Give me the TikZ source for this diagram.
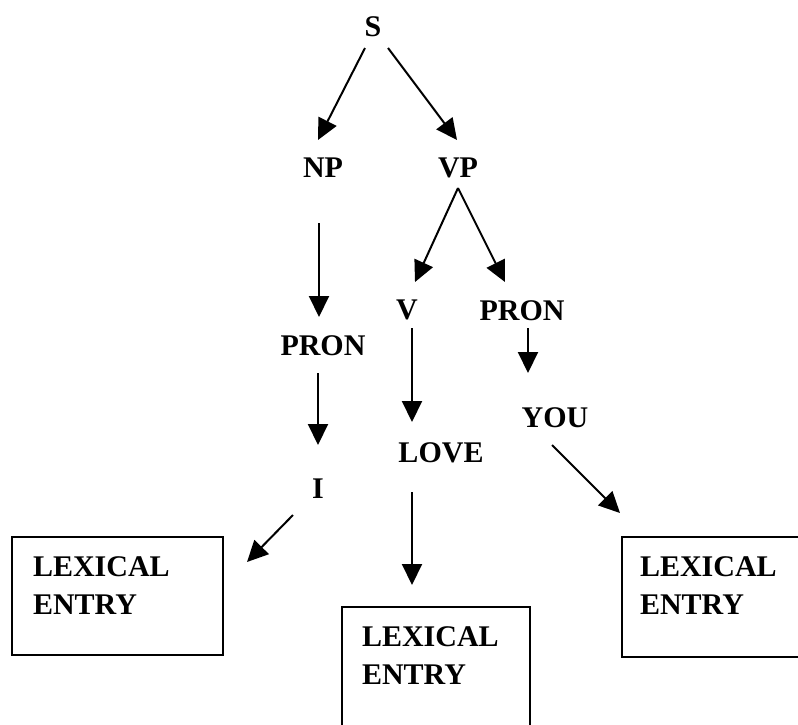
\documentclass[tikz,border=0pt]{standalone}
\usepackage{fontspec}
\setmainfont{Liberation Serif}
\usetikzlibrary{arrows.meta}

\begin{document}
\begin{tikzpicture}[
  x=1pt, y=-1pt,
  every node/.style={font=\fontsize{30}{38}\selectfont\bfseries, inner sep=0pt, outer sep=0pt},
  cat/.style={text height=21pt, text depth=0pt},
  entry box/.style={draw, line width=2.6pt, anchor=north west, minimum width=#1},
  entry text/.style={anchor=north west, align=left},
  tree arrow/.style={-{Triangle[length=21pt,width=20pt]}, line width=2pt}
]
  \clip (0,0) rectangle (798,724);

  % categories and words
  \node[cat] (S)     at (373,26)  {S};
  \node[cat] (NP)    at (323,167) {NP};
  \node[cat] (VP)    at (458,167) {VP};
  \node[cat] (V)     at (407,309) {V};
  \node[cat] (PRONr) at (522,310) {PRON};
  \node[cat] (PRONl) at (323,345) {PRON};
  \node[cat] (YOU)   at (555,417) {YOU};
  \node[cat] (LOVE)  at (441,452) {LOVE};
  \node[cat] (I)     at (318,488) {I};

  % lexical entries
  \node[entry box=211pt, minimum height=118pt] (lexI)    at (12,537)  {};
  \node[entry box=188pt, minimum height=130pt] (lexLOVE) at (342,607) {};
  \node[entry box=200pt, minimum height=120pt] (lexYOU)  at (622,537) {};
  \node[entry text] (tI)    at ([shift={(21,20)}]lexI.north west)    {LEXICAL\\ENTRY};
  \node[entry text] (tLOVE) at ([shift={(20,20)}]lexLOVE.north west) {LEXICAL\\ENTRY};
  \node[entry text] (tYOU)  at ([shift={(18,20)}]lexYOU.north west)  {LEXICAL\\ENTRY};

  \draw[tree arrow] ([shift={(-8,22)}]S.center) -- ([shift={(-5,-27)}]NP.center);
  \draw[tree arrow] ([shift={(15,22)}]S.center) -- ([shift={(-1,-27)}]VP.center);
  \draw[tree arrow] ([shift={(0,21)}]VP.center) -- ([shift={(8,-27)}]V.center);
  \draw[tree arrow] ([shift={(0,21)}]VP.center) -- ([shift={(-17,-28)}]PRONr.center);
  \draw[tree arrow] ([shift={(-4,56)}]NP.center) -- ([shift={(-4,-28)}]PRONl.center);
  \draw[tree arrow] ([shift={(-5,28)}]PRONl.center) -- ([shift={(0,-43)}]I.center);
  \draw[tree arrow] ([shift={(5,19)}]V.center) -- ([shift={(-29,-30)}]LOVE.center);
  \draw[tree arrow] ([shift={(6,18)}]PRONr.center) -- ([shift={(-27,-44)}]YOU.center);
  \draw[tree arrow] ([shift={(-29,40)}]LOVE.center) -- ([shift={(-24,-22)}]lexLOVE.north);
  \draw[tree arrow] ([shift={(-25,27)}]I.center) -- ([shift={(24,25)}]lexI.north east);
  \draw[tree arrow] ([shift={(-3,28)}]YOU.center) -- ([shift={(-2,-24)}]lexYOU.north west);
\end{tikzpicture}
\end{document}
